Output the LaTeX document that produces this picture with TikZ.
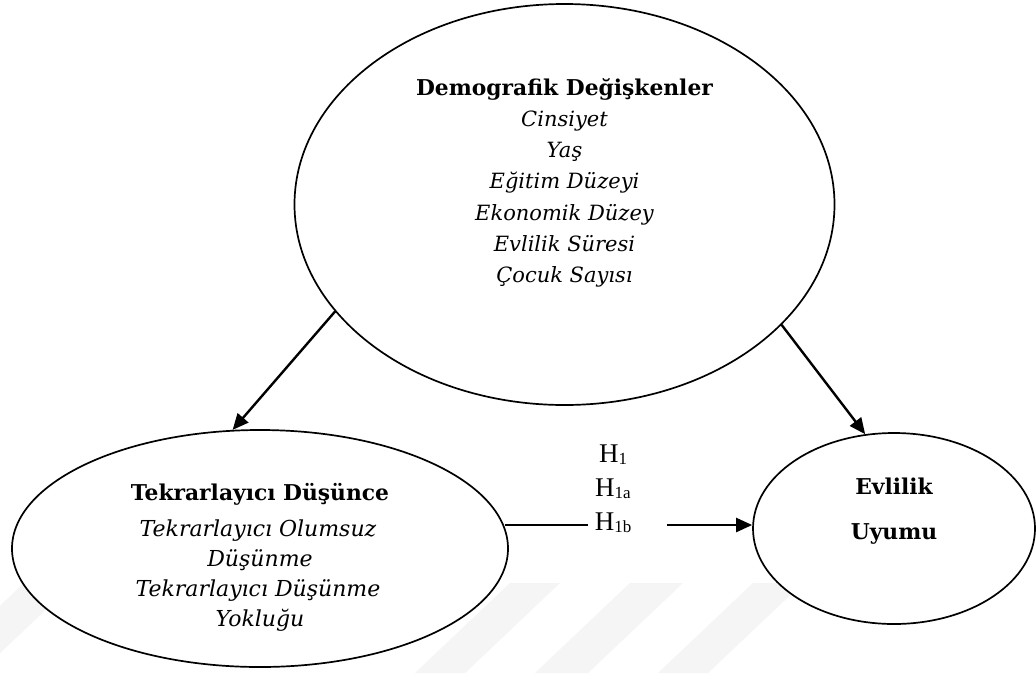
\documentclass[tikz,border=0pt]{standalone}
\usepackage{fontspec}
\setmainfont{DejaVu Serif}
\newfontfamily\hfont{Liberation Serif}
\usetikzlibrary{shapes.geometric,arrows.meta}
\newcommand\hsub[1]{\raisebox{-2pt}{\fontsize{17}{17}\selectfont #1}}
\begin{document}
\begin{tikzpicture}[x=1pt,y=-1pt,
  oval/.style={ellipse,draw,line width=1.7pt,fill=white,inner sep=0pt},
  arr/.style={line width=2.4pt,-{Triangle[length=16pt,width=14pt]}},
  plainline/.style={line width=2.2pt},
  hd/.style={anchor=base,font=\fontsize{21.8}{25}\selectfont\bfseries,inner sep=0pt},
  it/.style={anchor=base,font=\fontsize{21}{25}\selectfont\itshape,inner sep=0pt},
  itl/.style={anchor=base,font=\fontsize{22}{25}\selectfont\itshape,inner sep=0pt},
  hyp/.style={anchor=base,font=\hfont\fontsize{27}{30}\selectfont,inner sep=0pt},
  wm/.style={fill=black!4,draw=none}]
\useasboundingbox (0,0) rectangle (1036,673);
\fill[white] (0,0) rectangle (1036,673);
% faint watermark bands
\fill[wm] (24,583) -- (74,583) -- (-21,673) -- (-71,673) -- cycle;
\fill[wm] (510,583) -- (560,583) -- (465,673) -- (415,673) -- cycle;
\fill[wm] (630,583) -- (683,583) -- (588,673) -- (535,673) -- cycle;
\fill[wm] (753,583) -- (803,583) -- (708,673) -- (658,673) -- cycle;
% ellipses
\node[oval,minimum width=540pt,minimum height=401pt] (D) at (564.5,204.5) {};
\node[oval,minimum width=496pt,minimum height=237pt] (T) at (260,548.5) {};
\node[oval,minimum width=282pt,minimum height=191pt] (E) at (894,528.5) {};
% top texts
\node[hd] (d0) at (564.5,95) {Demografik Değişkenler};
\node[it] (d1) at (564.5,126.5) {Cinsiyet};
\node[it] (d2) at (564.5,157.5) {Yaş};
\node[it] (d3) at (564.5,188.5) {Eğitim Düzeyi};
\node[it] (d4) at (564.5,220) {Ekonomik Düzey};
\node[it] (d5) at (564.5,251) {Evlilik Süresi};
\node[it] (d6) at (564.5,282) {Çocuk Sayısı};
% left texts
\node[hd] (t0) at (260,500) {Tekrarlayıcı Düşünce};
\node[itl] (t1) at (258,536) {Tekrarlayıcı Olumsuz};
\node[itl] (t2) at (260,566) {Düşünme};
\node[itl] (t3) at (258,596) {Tekrarlayıcı Düşünme};
\node[itl] (t4) at (260,626) {Yokluğu};
% right texts
\node[hd] (e0) at (894,494) {Evlilik};
\node[hd] (e1) at (894,539) {Uyumu};
% hypotheses
\node[hyp] (h1) at (613,462) {H\hsub{1}};
\node[hyp] (h2) at (613,496) {H\hsub{1a}};
\node[hyp] (h3) at (613,530) {H\hsub{1b}};
% connectors
\coordinate (lineEnd) at (588,525);
\coordinate (arrStart) at (667,525);
\draw[plainline] (T.5 |- lineEnd) -- (lineEnd);
\draw[arr] (arrStart) -- (arrStart -| E.west);
\draw[arr] (D.205) -- (T.103);
\draw[arr] (D.331) -- (E.107);
\end{tikzpicture}
\end{document}
